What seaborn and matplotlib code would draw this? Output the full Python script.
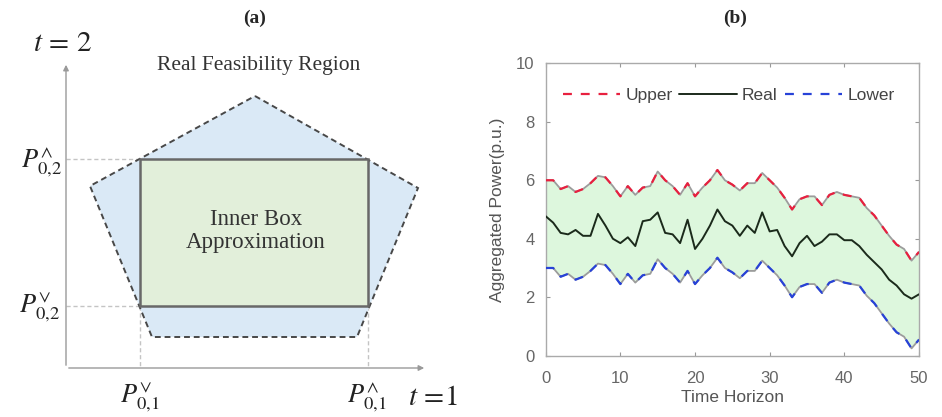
import numpy as np
import pandas as pd
import matplotlib
matplotlib.use("Agg")
import matplotlib.pyplot as plt
from matplotlib.patches import Polygon, Rectangle
import seaborn as sns

# panel (b) data
time_steps = list(range(51))
upper = [6.0, 6.0, 5.7, 5.8, 5.6, 5.7, 5.9, 6.15, 6.1, 5.8,
         5.45, 5.8, 5.5, 5.75, 5.8, 6.3, 6.0, 5.8, 5.5, 5.9,
         5.45, 5.75, 6.0, 6.35, 6.0, 5.85, 5.65, 5.9, 5.9, 6.25,
         6.0, 5.75, 5.4, 5.0, 5.35, 5.45, 5.45, 5.15, 5.5, 5.6,
         5.5, 5.45, 5.4, 5.05, 4.8, 4.45, 4.1, 3.8, 3.65, 3.25, 3.55]
real = [4.77, 4.55, 4.2, 4.15, 4.3, 4.1, 4.1, 4.85, 4.45, 4.0,
        3.85, 4.05, 3.75, 4.6, 4.65, 4.9, 4.2, 4.15, 3.85, 4.65,
        3.65, 4.0, 4.45, 5.0, 4.6, 4.45, 4.1, 4.45, 4.2, 4.9,
        4.25, 4.3, 3.75, 3.4, 3.85, 4.1, 3.75, 3.9, 4.15, 4.15,
        3.95, 3.95, 3.75, 3.45, 3.2, 2.95, 2.6, 2.4, 2.1, 1.95, 2.1]
lower = [3.0, 3.0, 2.7, 2.8, 2.6, 2.7, 2.9, 3.15, 3.1, 2.8,
         2.45, 2.8, 2.5, 2.75, 2.8, 3.3, 3.0, 2.8, 2.5, 2.9,
         2.45, 2.75, 3.0, 3.35, 3.0, 2.85, 2.65, 2.9, 2.9, 3.25,
         3.0, 2.75, 2.4, 2.0, 2.35, 2.45, 2.45, 2.15, 2.5, 2.6,
         2.5, 2.45, 2.4, 2.05, 1.8, 1.45, 1.1, 0.8, 0.65, 0.25, 0.55]
xticks_b = [0, 10, 20, 30, 40, 50]
yticks_b = [0, 2, 4, 6, 8, 10]

# panel (a) sketch geometry (pixel space of the left half)
pent_x = [255, 418, 357, 152, 90]
pent_y = [96, 188, 337, 337, 186]
box_left, box_right = 140, 368
box_top, box_bottom = 159, 306
axis_origin = (66, 368)
axis_xend = 427
axis_yend = 62

sns.set_theme(style="ticks")
plt.rcParams['font.family'] = ['Liberation Sans', 'DejaVu Sans']
plt.rcParams['mathtext.fontset'] = 'stix'

fig = plt.figure(figsize=(9.42, 4.17), dpi=100)

# ---------------- panel (a) ----------------
axa = fig.add_axes([0, 0, 470/942, 1])
axa.set_xlim(0, 470)
axa.set_ylim(417, 0)
axa.set_axis_off()

serif = ['Liberation Serif', 'DejaVu Serif']
guide = dict(color='#c4c4c4', lw=1.0, linestyle=(0, (3, 2)))

axa.add_patch(Polygon(list(zip(pent_x, pent_y)), closed=True, facecolor='#dae9f6',
                      edgecolor='#484848', lw=1.4, linestyle=(0, (3, 2)), zorder=2))
axa.add_patch(Rectangle((box_left, box_top), box_right-box_left, box_bottom-box_top,
                        facecolor='#e2efda', edgecolor='#686868', lw=1.8, zorder=3))

axa.plot([axis_origin[0], box_left], [box_top, box_top], zorder=1, **guide)
axa.plot([axis_origin[0], box_left], [box_bottom, box_bottom], zorder=1, **guide)
axa.plot([box_left, box_left], [box_bottom, axis_origin[1]], zorder=1, **guide)
axa.plot([box_right, box_right], [box_bottom, axis_origin[1]], zorder=1, **guide)

arrow = dict(arrowstyle='-|>', color='#9a9a9a', lw=1.0, mutation_scale=8)
axa.annotate('', xy=(axis_xend, axis_origin[1]), xytext=axis_origin, arrowprops=arrow)
axa.annotate('', xy=(axis_origin[0], axis_yend), xytext=axis_origin, arrowprops=arrow)

axa.text(255, 18, '(a)', family=serif, fontweight='bold', fontsize=14, ha='center', va='center')
axa.text(63, 43, '$t\\,=\\,2$', fontsize=21, ha='center', va='center', color='#222')
axa.text(433, 397, '$t\\,=\\!1$', fontsize=21, ha='center', va='center', color='#222')
axa.text(259, 65, 'Real Feasibility Region', family=serif, fontsize=15.5,
         ha='center', va='center', color='#333')
axa.text(256, 231, 'Inner Box\nApproximation', family=serif, fontsize=16.5,
         ha='center', va='center', color='#333', linespacing=1.15, zorder=4)
p_labels = [(42, 163, r'$P_{0,\!2}^{\wedge}$'), (40, 308, r'$P_{0,\!2}^{\vee}$'),
            (140, 398, r'$P_{0,\!1}^{\vee}$'), (367, 398, r'$P_{0,\!1}^{\wedge}$')]
for px, py, lab in p_labels:
    axa.text(px, py, lab, fontsize=19, ha='center', va='center', color='#222')

# ---------------- panel (b) ----------------
df = pd.DataFrame({"t": time_steps, "Upper": upper, "Real": real, "Lower": lower})

axb = fig.add_axes([545.7/942, (417-355.7)/417, (919-545.7)/942, (355.7-63.3)/417])
axb.fill_between(df["t"], df["Lower"], df["Upper"], color='#ddf7dd', lw=0, zorder=1)
sns.lineplot(data=df, x="t", y="Upper", ax=axb, color='#9c9c9c', lw=1.3, zorder=2)
sns.lineplot(data=df, x="t", y="Lower", ax=axb, color='#9c9c9c', lw=1.3, zorder=2)
sns.lineplot(data=df, x="t", y="Upper", ax=axb, color='#e8203f', lw=1.6,
             linestyle=(0, (4, 4)), label="Upper", zorder=3)
sns.lineplot(data=df, x="t", y="Real", ax=axb, color='#1b2a1b', lw=1.4, label="Real", zorder=3)
sns.lineplot(data=df, x="t", y="Lower", ax=axb, color='#2742d8', lw=1.6,
             linestyle=(0, (4, 4)), label="Lower", zorder=3)

axb.set_xlim(0, 50)
axb.set_ylim(0, 10)
axb.set_xticks(xticks_b)
axb.set_yticks(yticks_b)
axb.tick_params(direction='in', length=3, width=0.8, color='#999', labelcolor='#666',
                labelsize=12, top=True, right=True)
axb.tick_params(axis='x', pad=11)
axb.tick_params(axis='y', pad=8)
for s in axb.spines.values():
    s.set_color('#aaaaaa')
    s.set_linewidth(1.0)
axb.set_xlabel("Time Horizon", fontsize=12.5, color='#555', labelpad=3)
axb.set_ylabel("Aggregated Power(p.u.)", fontsize=12.5, color='#555')
axb.yaxis.set_label_coords(-0.11, 0.5)

leg = axb.legend(loc='center', bbox_to_anchor=(0.49, 0.89), ncol=3, frameon=False,
                 handlelength=3.3, handletextpad=0.3, columnspacing=0.4,
                 borderpad=0, fontsize=12.5)
for t in leg.get_texts():
    t.set_color('#444')

fig.text(735/942, 1-18/417, '(b)', family=serif, fontweight='bold', fontsize=14,
         ha='center', va='center')

fig.savefig("out.png", dpi=100)
